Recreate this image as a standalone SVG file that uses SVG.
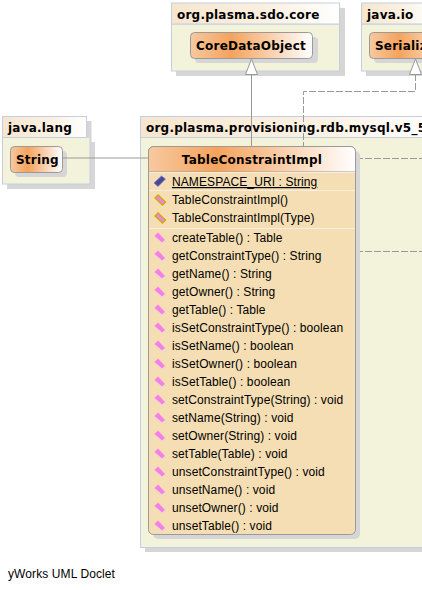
<svg xmlns="http://www.w3.org/2000/svg" width="422" height="590" viewBox="0 0 422 590">
<defs>
<linearGradient id="hp" x1="0" y1="0" x2="1" y2="0"><stop offset="0" stop-color="#f6e6cf"/><stop offset="0.6" stop-color="#fbf1e2"/><stop offset="1" stop-color="#ffffff"/></linearGradient>
<linearGradient id="hc" x1="0" y1="0" x2="1" y2="0"><stop offset="0" stop-color="#f7c9a0"/><stop offset="0.33" stop-color="#f5a35c"/><stop offset="1" stop-color="#ffffff"/></linearGradient>
<g id="m"><path d="M-2 -5.500 L-5.500 -2 L2 4.500 L5 2 Z" fill="#f47fe8"/><path d="M-5 -1 L2 5 L5.500 2.500" fill="none" stroke="#e8d0e0" stroke-width="1"/></g>
<g id="c"><path d="M-2 -5 L-5 -2 L2.500 5 L5.500 2 Z" fill="#f47fe8" stroke="#c4b000" stroke-width="1.300"/></g>
<g id="f"><path d="M-6 1.500 L1.500 -5.500 L5.500 -2.500 L-2 5 Z" fill="#47479b" stroke="#7a7ac0" stroke-width="0.700"/></g>
</defs>
<style>
.pkg{fill:#f3f3dc;stroke:#c5cde0;stroke-width:1}
.ph{fill:url(#hp);stroke:#c5cde0;stroke-width:1}
.sh{fill:#d6d6d6}
.cls{fill:url(#hc);stroke:#9a9a9a;stroke-width:1}
.b{font-family:"DejaVu Sans",sans-serif;font-weight:bold;font-size:12px;letter-spacing:.22px;fill:#000}
.t{font-family:"Liberation Sans",Arial,sans-serif;font-size:12px;letter-spacing:.1px;fill:#000}
.l{fill:none;stroke:#999;stroke-width:1}
.d{fill:none;stroke:#999;stroke-width:1;stroke-dasharray:7 2}
.a{fill:#fff;stroke:#999;stroke-width:1}
.sep{stroke:#f6eee0;stroke-width:1}
</style>

<g id="pkg-core">
<rect class="sh" x="176" y="8" width="169" height="68"/>
<rect class="pkg" x="171.500" y="24" width="168" height="47"/>
<rect class="ph" x="171.500" y="3" width="168" height="21"/>
<text class="b" x="177" y="19">org.plasma.sdo.core</text>
</g>
<g id="node-coredataobject">
<rect class="sh" x="195" y="37" width="123" height="26" rx="4"/>
<rect class="cls" x="190.500" y="32.500" width="122" height="26" rx="4"/>
<text class="b" x="196" y="50">CoreDataObject</text>
</g>

<g id="pkg-javaio">
<rect class="sh" x="366" y="8" width="60" height="68"/>
<rect class="pkg" x="361.500" y="24" width="70" height="47"/>
<rect class="ph" x="361.500" y="3" width="70" height="21"/>
<text class="b" x="367" y="19">java.io</text>
</g>
<g id="node-serializable">
<rect class="sh" x="374" y="37" width="60" height="26" rx="4"/>
<rect class="cls" x="369.500" y="32.500" width="90" height="26" rx="4"/>
<text class="b" x="375" y="50">Serializ</text>
</g>

<g id="pkg-javalang">
<path class="sh" d="M7 121H91.500V142H95V189H7Z"/>
<rect class="pkg" x="2.500" y="137" width="87.500" height="47"/>
<rect class="ph" x="2.500" y="116.500" width="84" height="21"/>
<text class="b" x="8" y="132">java.lang</text>
</g>
<g id="node-string">
<rect class="sh" x="15" y="151" width="52" height="26" rx="4"/>
<rect class="cls" x="10.500" y="146.500" width="52" height="26" rx="4"/>
<text class="b" x="16" y="164">String</text>
</g>

<g id="pkg-main">
<rect class="sh" x="145" y="121" width="290" height="431"/>
<rect class="pkg" x="140.500" y="137" width="295" height="410.500"/>
<rect class="ph" x="140.500" y="116.500" width="295" height="21"/>
<text class="b" x="146" y="132">org.plasma.provisioning.rdb.mysql.v5_5</text>
</g>

<g id="connectors">
<path class="l" d="M251.500 74V146"/>
<path class="a" d="M251.500 59L245.500 74.500H257.500Z"/>
<path class="d" d="M415.500 74V91.500H303.500V146"/>
<path class="a" d="M415.500 59L409.500 74.500H421.500Z"/>
<path class="l" d="M63 158H148"/>
<path class="d" d="M356 158.500H422"/>
<path class="d" d="M356 251.500H422"/>
</g>

<g id="node-tableconstraintimpl">
<rect class="sh" x="153" y="151" width="207" height="388" rx="5"/>
<rect x="148.500" y="146.500" width="207" height="388" rx="5" fill="#f5deb3" stroke="#9a9a9a"/>
<path d="M148.500 172V151.500a5 5 0 0 1 5 -5H350.500a5 5 0 0 1 5 5V172Z" fill="url(#hc)" stroke="#9a9a9a"/>
<line class="sep" x1="149" y1="172.500" x2="355" y2="172.500"/>
<line class="sep" x1="149" y1="190.500" x2="355" y2="190.500"/>
<line class="sep" x1="149" y1="228.500" x2="355" y2="228.500"/>
<text class="b" x="252" y="164" text-anchor="middle">TableConstraintImpl</text>
<use href="#f" x="160" y="181.500"/>
<text class="t" x="172" y="186" text-decoration="underline">NAMESPACE_URI : String</text>
<use href="#c" x="160" y="200"/><text class="t" x="172" y="204">TableConstraintImpl()</text>
<use href="#c" x="160" y="218"/><text class="t" x="172" y="222">TableConstraintImpl(Type)</text>
<use href="#m" x="160" y="238"/><text class="t" x="172" y="242">createTable() : Table</text>
<use href="#m" x="160" y="256"/><text class="t" x="172" y="260">getConstraintType() : String</text>
<use href="#m" x="160" y="274"/><text class="t" x="172" y="278">getName() : String</text>
<use href="#m" x="160" y="292"/><text class="t" x="172" y="296">getOwner() : String</text>
<use href="#m" x="160" y="310"/><text class="t" x="172" y="314">getTable() : Table</text>
<use href="#m" x="160" y="328"/><text class="t" x="172" y="332">isSetConstraintType() : boolean</text>
<use href="#m" x="160" y="346"/><text class="t" x="172" y="350">isSetName() : boolean</text>
<use href="#m" x="160" y="364"/><text class="t" x="172" y="368">isSetOwner() : boolean</text>
<use href="#m" x="160" y="382"/><text class="t" x="172" y="386">isSetTable() : boolean</text>
<use href="#m" x="160" y="400"/><text class="t" x="172" y="404">setConstraintType(String) : void</text>
<use href="#m" x="160" y="418"/><text class="t" x="172" y="422">setName(String) : void</text>
<use href="#m" x="160" y="436"/><text class="t" x="172" y="440">setOwner(String) : void</text>
<use href="#m" x="160" y="454"/><text class="t" x="172" y="458">setTable(Table) : void</text>
<use href="#m" x="160" y="472"/><text class="t" x="172" y="476">unsetConstraintType() : void</text>
<use href="#m" x="160" y="490"/><text class="t" x="172" y="494">unsetName() : void</text>
<use href="#m" x="160" y="508"/><text class="t" x="172" y="512">unsetOwner() : void</text>
<use href="#m" x="160" y="526"/><text class="t" x="172" y="530">unsetTable() : void</text>
</g>

<text class="t" x="8" y="578">yWorks UML Doclet</text>
</svg>
